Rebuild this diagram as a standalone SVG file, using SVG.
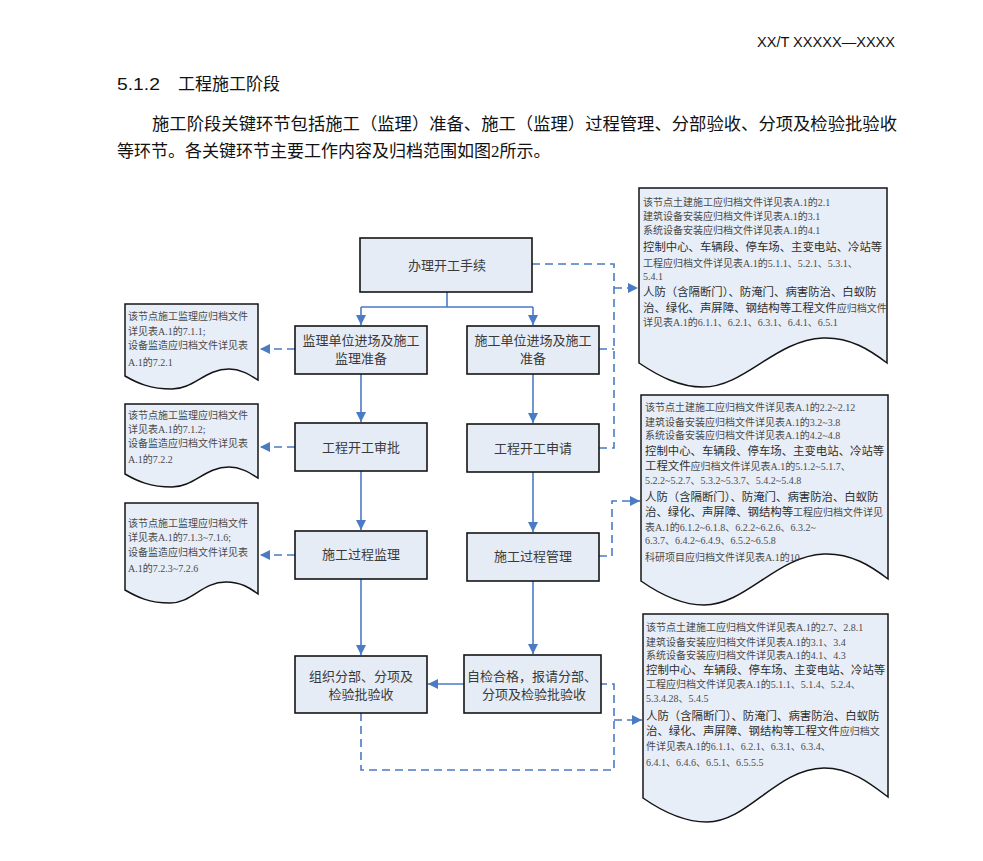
<svg xmlns="http://www.w3.org/2000/svg" width="983" height="861" viewBox="0 0 983 861">
<defs>
<style>
.bg{fill:#ffffff}
.node rect{fill:#E6ECF6;stroke:#141414;stroke-width:1.6}
.doc path{fill:#E8EEF8;stroke:#141414;stroke-width:1.5}
.nt{font-family:"Liberation Serif","Noto Sans CJK SC",serif;font-size:13px;fill:#3a3a3a;text-anchor:middle}
.dt{font-family:"Liberation Serif","Noto Sans CJK SC",serif;font-size:10px;fill:#4a4a4a}
.lg{font-size:11.4px;fill:#2e2e2e}
.sm{font-size:10px;fill:#4a4a4a}
.solid{fill:none;stroke:#4A7BC4;stroke-width:1.6}
.dash{fill:none;stroke:#4A7BC4;stroke-width:1.6;stroke-dasharray:8,5}
.hd{font-family:"Liberation Sans",sans-serif;font-size:14px;fill:#111}
.h2{font-family:"Liberation Sans","Noto Sans CJK SC",sans-serif;font-size:17px;fill:#111}
.para{font-family:"Liberation Serif","Noto Sans CJK SC",serif;font-size:17px;fill:#111}
</style>
<marker id="ah" markerUnits="userSpaceOnUse" markerWidth="11" markerHeight="10" refX="10" refY="5" orient="auto">
<path d="M0,0 L10,5 L0,10 z" fill="#4A7BC4"/>
</marker>
</defs>
<rect class="bg" x="0" y="0" width="983" height="861"/>

<g id="page-header">
<text class="hd" x="757" y="47" textLength="138" lengthAdjust="spacingAndGlyphs">XX/T XXXXX—XXXX</text>
<text class="h2" x="117" y="90" textLength="43" lengthAdjust="spacingAndGlyphs">5.1.2</text>
<text class="h2" x="178" y="90">工程施工阶段</text>
<text class="para" x="152" y="130" textLength="745" lengthAdjust="spacingAndGlyphs">施工阶段关键环节包括施工（监理）准备、施工（监理）过程管理、分部验收、分项及检验批验收</text>
<text class="para" x="117" y="157">等环节。各关键环节主要工作内容及归档范围如图2所示。</text>
</g>

<g id="connectors">
<path class="solid" d="M447,292 V307 M361,307 H533"/>
<path class="solid" d="M361,307 V325" marker-end="url(#ah)"/>
<path class="solid" d="M533,307 V325" marker-end="url(#ah)"/>
<path class="solid" d="M361,374 V422" marker-end="url(#ah)"/>
<path class="solid" d="M533,374 V423" marker-end="url(#ah)"/>
<path class="solid" d="M361,471 V530" marker-end="url(#ah)"/>
<path class="solid" d="M533,472 V532" marker-end="url(#ah)"/>
<path class="solid" d="M361,579 V655" marker-end="url(#ah)"/>
<path class="solid" d="M533,581 V654" marker-end="url(#ah)"/>
<path class="solid" d="M464,684 H428" marker-end="url(#ah)"/>
<path class="dash" d="M532,264 H614 V448 H599"/>
<path class="dash" d="M599,349 H614"/>
<path class="dash" d="M614,288 H638" marker-end="url(#ah)"/>
<path class="dash" d="M599,556 H612 V501 H640" marker-end="url(#ah)"/>
<path class="dash" d="M361,713 V770 H614 V684 H601"/>
<path class="dash" d="M614,720 H642" marker-end="url(#ah)"/>
<path class="dash" d="M295,349 H260" marker-end="url(#ah)"/>
<path class="dash" d="M295,447 H260" marker-end="url(#ah)"/>
<path class="dash" d="M295,555 H260" marker-end="url(#ah)"/>
</g>

<g id="n-start" class="node">
<rect x="360" y="238" width="172" height="54"/>
<text class="nt" x="447" y="270">办理开工手续</text>
</g>
<g id="n-jl-prep" class="node">
<rect x="295" y="326" width="132" height="48"/>
<text class="nt" x="361" y="345">监理单位进场及施工</text>
<text class="nt" x="361" y="363">监理准备</text>
</g>
<g id="n-sg-prep" class="node">
<rect x="467" y="326" width="132" height="48"/>
<text class="nt" x="533" y="345">施工单位进场及施工</text>
<text class="nt" x="533" y="363">准备</text>
</g>
<g id="n-approve" class="node">
<rect x="295" y="423" width="132" height="48"/>
<text class="nt" x="361" y="452">工程开工审批</text>
</g>
<g id="n-apply" class="node">
<rect x="467" y="424" width="132" height="48"/>
<text class="nt" x="533" y="453">工程开工申请</text>
</g>
<g id="n-supervise" class="node">
<rect x="295" y="531" width="132" height="48"/>
<text class="nt" x="361" y="559">施工过程监理</text>
</g>
<g id="n-manage" class="node">
<rect x="467" y="533" width="132" height="48"/>
<text class="nt" x="533" y="561">施工过程管理</text>
</g>
<g id="n-accept" class="node">
<rect x="295" y="656" width="132" height="57"/>
<text class="nt" x="361" y="681">组织分部、分项及</text>
<text class="nt" x="361" y="699">检验批验收</text>
</g>
<g id="n-selfcheck" class="node">
<rect x="464" y="655" width="137" height="58"/>
<text class="nt" x="532" y="681">自检合格，报请分部、</text>
<text class="nt" x="534" y="699">分项及检验批验收</text>
</g>

<g id="doc-r1" class="doc">
<path d="M639,188 H887 V363 C870,350 850,337 823,338 C775,340 745,387 703,387 C680,387 660,377 639,363 Z"/>
<text class="dt">
<tspan x="643" y="205.5">该节点土建施工应归档文件详见表A.1的2.1</tspan>
<tspan x="643" y="219.5">建筑设备安装应归档文件详见表A.1的3.1</tspan>
<tspan x="643" y="233.5">系统设备安装应归档文件详见表A.1的4.1</tspan>
<tspan x="643" y="251" class="lg">控制中心、车辆段、停车场、主变电站、冷站等</tspan>
<tspan x="643" y="266.5">工程应归档文件详见表A.1的5.1.1、5.2.1、5.3.1、</tspan>
<tspan x="643" y="279.5">5.4.1</tspan>
<tspan x="643" y="296" class="lg">人防（含隔断门）、防淹门、病害防治、白蚁防</tspan>
<tspan x="643" y="312" class="lg">治、绿化、声屏障、钢结构等工程文件</tspan><tspan class="sm">应归档文件</tspan>
<tspan x="643" y="325.5">详见表A.1的6.1.1、6.2.1、6.3.1、6.4.1、6.5.1</tspan>
</text>
</g>

<g id="doc-r2" class="doc">
<path d="M641,395 H888 V579 C871,566 851,553 824,554 C776,556 746,605 704,605 C681,605 661,595 641,581 Z"/>
<text class="dt">
<tspan x="645" y="410.5">该节点土建施工应归档文件详见表A.1的2.2~2.12</tspan>
<tspan x="645" y="425.5">建筑设备安装应归档文件详见表A.1的3.2~3.8</tspan>
<tspan x="645" y="438.5">系统设备安装应归档文件详见表A.1的4.2~4.8</tspan>
<tspan x="645" y="455" class="lg">控制中心、车辆段、停车场、主变电站、冷站等</tspan>
<tspan x="645" y="469.5" class="lg">工程文件</tspan><tspan class="sm">应归档文件详见表A.1的5.1.2~5.1.7、</tspan>
<tspan x="645" y="483.5">5.2.2~5.2.7、5.3.2~5.3.7、5.4.2~5.4.8</tspan>
<tspan x="645" y="501" class="lg">人防（含隔断门）、防淹门、病害防治、白蚁防</tspan>
<tspan x="645" y="516" class="lg">治、绿化、声屏障、钢结构等</tspan><tspan class="sm">工程应归档文件详见</tspan>
<tspan x="645" y="530.5">表A.1的6.1.2~6.1.8、6.2.2~6.2.6、6.3.2~</tspan>
<tspan x="645" y="543.5">6.3.7、6.4.2~6.4.9、6.5.2~6.5.8</tspan>
<tspan x="645" y="560.5">科研项目应归档文件详见表A.1的10</tspan>
</text>
</g>

<g id="doc-r3" class="doc">
<path d="M643,614 H888 V797 C871,784 851,768 824,768 C776,769 748,822 707,822 C684,822 663,812 643,798 Z"/>
<text class="dt">
<tspan x="646" y="630.5">该节点土建施工应归档文件详见表A.1的2.7、2.8.1</tspan>
<tspan x="646" y="645.5">建筑设备安装应归档文件详见表A.1的3.1、3.4</tspan>
<tspan x="646" y="658.5">系统设备安装应归档文件详见表A.1的4.1、4.3</tspan>
<tspan x="646" y="674" class="lg">控制中心、车辆段、停车场、主变电站、冷站等</tspan>
<tspan x="646" y="687.5">工程应归档文件详见表A.1的5.1.1、5.1.4、5.2.4、</tspan>
<tspan x="646" y="701.5">5.3.4.28、5.4.5</tspan>
<tspan x="646" y="720" class="lg">人防（含隔断门）、防淹门、病害防治、白蚁防</tspan>
<tspan x="646" y="735" class="lg">治、绿化、声屏障、钢结构等工程文件</tspan><tspan class="sm">应归档文</tspan>
<tspan x="646" y="749.5">件详见表A.1的6.1.1、6.2.1、6.3.1、6.3.4、</tspan>
<tspan x="646" y="765.5">6.4.1、6.4.6、6.5.1、6.5.5.5</tspan>
</text>
</g>

<g id="doc-l1" class="doc">
<path d="M125,304 H258 V380 C250,375 241,369 229,369 C205,369 194,389 172,389 C150,389 137,383 125,376 Z"/>
<text class="dt">
<tspan x="128" y="319.5">该节点施工监理应归档文件</tspan>
<tspan x="128" y="334.5">详见表A.1的7.1.1;</tspan>
<tspan x="128" y="348.5">设备监造应归档文件详见表</tspan>
<tspan x="128" y="365.5">A.1的7.2.1</tspan>
</text>
</g>

<g id="doc-l2" class="doc">
<path d="M125,404 H258 V478 C250,473 241,467 229,467 C205,467 194,487 172,487 C150,487 137,481 125,474 Z"/>
<text class="dt">
<tspan x="128" y="418.5">该节点施工监理应归档文件</tspan>
<tspan x="128" y="432.5">详见表A.1的7.1.2;</tspan>
<tspan x="128" y="446.5">设备监造应归档文件详见表</tspan>
<tspan x="128" y="462.5">A.1的7.2.2</tspan>
</text>
</g>

<g id="doc-l3" class="doc">
<path d="M125,503 H258 V594 C250,588 241,582 226,582 C202,582 192,603 170,603 C149,603 137,597 125,590 Z"/>
<text class="dt">
<tspan x="128" y="526.5">该节点施工监理应归档文件</tspan>
<tspan x="128" y="540.5">详见表A.1的7.1.3~7.1.6;</tspan>
<tspan x="128" y="555.5">设备监造应归档文件详见表</tspan>
<tspan x="128" y="571.5">A.1的7.2.3~7.2.6</tspan>
</text>
</g>
</svg>
